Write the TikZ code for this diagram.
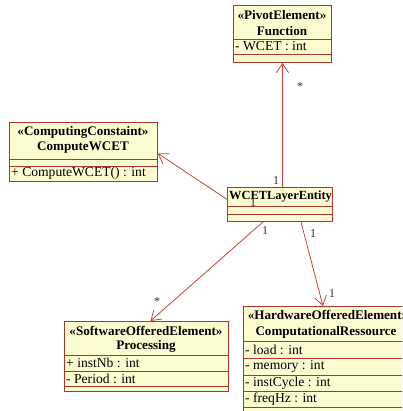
\documentclass[tikz,border=0pt]{standalone}
\usepackage{fontspec}
\setmainfont{Liberation Serif}
\usetikzlibrary{arrows.meta,calc}
\definecolor{clsfill}{HTML}{FFFBD0}
\definecolor{clsline}{HTML}{A8382C}
\definecolor{assocline}{HTML}{C8443C}
\tikzset{
  clsbox/.style={draw=clsline, fill=clsfill, line width=0.9pt, anchor=north west, inner sep=0pt},
  sep/.style={draw=clsline, line width=0.9pt},
  stereo/.style={font=\fontsize{13.1}{14}\selectfont\bfseries, inner sep=0pt},
  cname/.style={font=\fontsize{13.1}{14}\selectfont\bfseries, inner sep=0pt},
  member/.style={font=\fontsize{13.6}{14}\selectfont, anchor=west, inner sep=0pt},
  assoc/.style={draw=assocline, line width=0.8pt, -{Straight Barb[length=9pt,width=12pt,line width=0.8pt]}},
  mult/.style={font=\fontsize{12}{14}\selectfont, text=black!80, inner sep=0pt}
}
\begin{document}
\begin{tikzpicture}[x=1pt,y=-1pt]
\useasboundingbox (0,0) rectangle (402,411);
\fill[white] (0,0) rectangle (402,411);
\begin{scope}
\clip (0,0) rectangle (402,411);

% Function
\node[clsbox, minimum width=98pt, minimum height=57pt] (func) at (233,5) {};
\draw[sep] (233,39) -- (331,39);
\draw[sep] (233,54) -- (331,54);
\node[stereo] (funcst) at (282,15) {«PivotElement»};
\node[cname] (funcnm) at (282,31) {Function};
\node[member] (funcm1) at (235,46.5) {- WCET : int};

% ComputeWCET
\node[clsbox, minimum width=148pt, minimum height=59pt] (comp) at (9,122) {};
\draw[sep] (9,159) -- (157,159);
\draw[sep] (9,166) -- (157,166);
\node[stereo] (compst) at (83,132) {«ComputingConstaint»};
\node[cname] (compnm) at (83,148) {ComputeWCET};
\node[member] (compm1) at (11,173.5) {+ ComputeWCET() : int};

% WCETLayerEntity
\node[clsbox, minimum width=105pt, minimum height=34pt] (wcet) at (227,187) {};
\draw[sep] (227,206) -- (332,206);
\draw[sep] (227,214) -- (332,214);
\node[cname, font=\fontsize{12.4}{14}\selectfont\bfseries] (wcetnm) at (280.5,196.5) {WCETLayerEntity};

% Processing
\node[clsbox, minimum width=164pt, minimum height=70pt] (proc) at (64,321) {};
\draw[sep] (64,355) -- (228,355);
\draw[sep] (64,371) -- (228,371);
\draw[sep] (64,386) -- (228,386);
\node[stereo] (procst) at (146,331) {«SoftwareOfferedElement»};
\node[cname] (procnm) at (146,346) {Processing};
\node[member] (procm1) at (66,363) {+ instNb : int};
\node[member] (procm2) at (66,378.5) {- Period : int};

% ComputationalRessource (runs past the right edge)
\node[clsbox, minimum width=176pt, minimum height=112pt] (cres) at (243,306) {};
\draw[sep] (243,341) -- (419,341);
\draw[sep] (243,358) -- (419,358);
\draw[sep] (243,375) -- (419,375);
\draw[sep] (243,391) -- (419,391);
\draw[sep] (243,407) -- (419,407);
\node[stereo] (cresst) at (328,315) {«HardwareOfferedElement»};
\node[cname] (cresnm) at (326,332) {ComputationalRessource};
\node[member] (cresm1) at (245,349.5) {- load : int};
\node[member] (cresm2) at (245,366.5) {- memory : int};
\node[member] (cresm3) at (245,383) {- instCycle : int};
\node[member] (cresm4) at (245,399) {- freqHz : int};

% associations
\draw[assoc] (wcet.north -| func.south) -- (func.south);
\draw[assoc] ($(wcet.north west)+(1,13)$) -- ($(comp.east)+(0,1.5)$);
\draw[assoc] ($(wcet.south)+(-17,0)$) -- ($(proc.north)+(4,0)$);
\draw[assoc] ($(wcet.south)+(21,0)$) -- ($(cres.north west)+(80,0)$);

% multiplicities
\node[mult] (m1) at (300,87) {*};
\node[mult] (m2) at (276,181) {1};
\node[mult] (m3) at (253,203) {1};
\node[mult] (m4) at (265,231) {1};
\node[mult] (m5) at (157,302) {*};
\node[mult] (m6) at (313,234) {1};
\node[mult] (m7) at (332,294) {1};
\end{scope}
\end{tikzpicture}
\end{document}
